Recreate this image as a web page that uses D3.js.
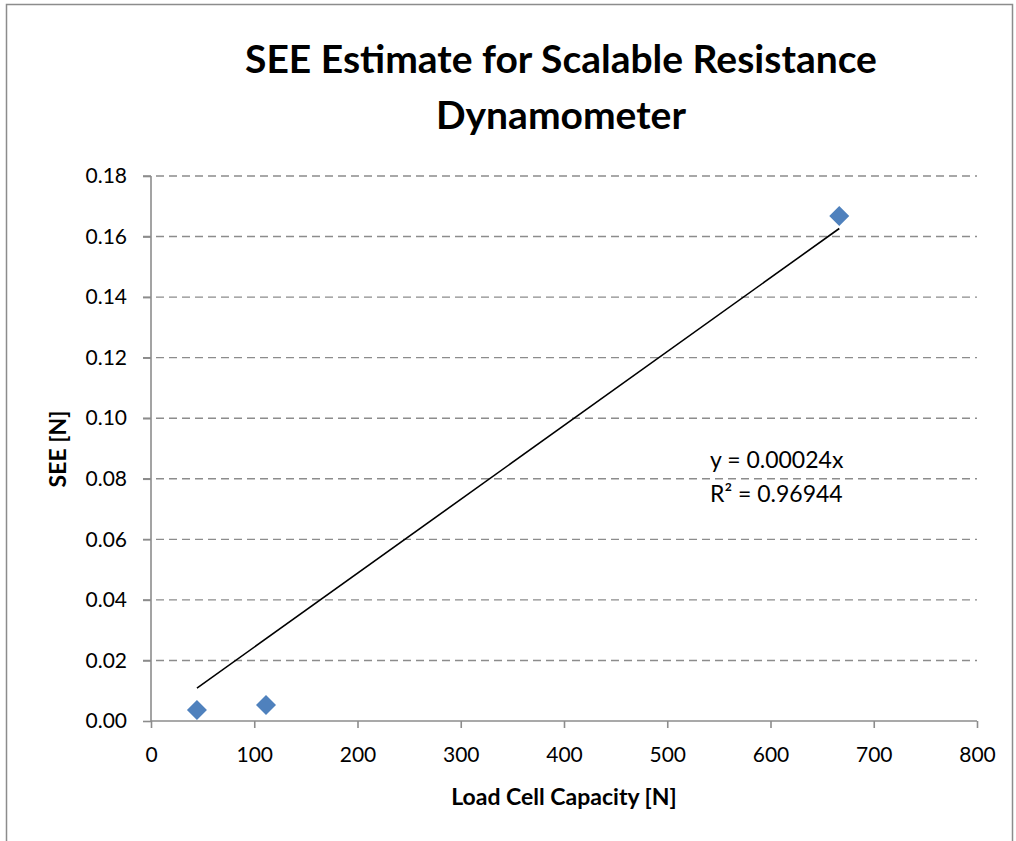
<!DOCTYPE html>
<html>
<head>
<meta charset="utf-8">
<script src="https://cdn.jsdelivr.net/npm/d3@7"></script>
<style>
  body { margin: 0; background: #fff; }
  text { font-family: Lato, "Open Sans", sans-serif; fill: #000; }
</style>
</head>
<body>
<div id="chart"></div>
<script>
// data
var capacity = [44.5, 111.4, 666.6];      // Load Cell Capacity [N]
var see = [0.0036, 0.0053, 0.1668];        // SEE [N]
var xTicks = [0, 100, 200, 300, 400, 500, 600, 700, 800];
var yTicks = [0, 0.02, 0.04, 0.06, 0.08, 0.10, 0.12, 0.14, 0.16, 0.18];
var titleLines = ["SEE Estimate for Scalable Resistance", "Dynamometer"];
var eqLines = ["y = 0.00024x", "R\u00B2 = 0.96944"];

var svgWidth = 1016;
var svgHeight = 841;

var margin = { top: 176, right: 39, bottom: 120, left: 151 };
var width = svgWidth - margin.left - margin.right;
var height = svgHeight - margin.top - margin.bottom;

var svg = d3.select("#chart")
    .append("svg")
    .attr("width", svgWidth)
    .attr("height", svgHeight);

// outer frame
svg.append("rect")
    .attr("x", 6.5)
    .attr("y", 4.5)
    .attr("width", 1006)
    .attr("height", 860)
    .attr("fill", "none")
    .attr("stroke", "#8c8c8c")
    .attr("stroke-width", 1.5);

var g = svg.append("g")
    .attr("transform", `translate(${margin.left}, ${margin.top})`);

var xScale = d3.scaleLinear().domain([0, 800]).range([0, width]);
var yScale = d3.scaleLinear().domain([0, 0.18]).range([height, 0]);

// gridlines
g.append("g")
    .selectAll("line")
    .data(yTicks.slice(1))
    .enter()
    .append("line")
    .attr("x1", -8)
    .attr("x2", width)
    .attr("y1", d => yScale(d))
    .attr("y2", d => yScale(d))
    .attr("stroke", "#8c8c8c")
    .attr("stroke-width", 1.4)
    .attr("stroke-dasharray", "8,5");

// axes
var xAxis = g.append("g")
    .attr("transform", `translate(0, ${height})`)
    .call(d3.axisBottom(xScale).tickValues(xTicks).tickSize(7).tickPadding(19).tickFormat(d3.format("d")));

var yAxis = g.append("g")
    .call(d3.axisLeft(yScale).tickValues(yTicks).tickSize(8).tickPadding(16).tickFormat(d3.format(".2f")));

[xAxis, yAxis].forEach(function(ax) {
    ax.selectAll("path, line").attr("stroke", "#8c8c8c").attr("stroke-width", 1.6);
    ax.select(".domain").attr("d", ax === xAxis ? `M0,0H${width}` : `M0,0V${height}`);
    ax.selectAll("text")
        .style("font-family", "Lato, 'Open Sans', sans-serif")
        .style("font-size", "21px")
        .attr("fill", "#000");
});

// trendline (least squares through origin)
var sxy = d3.sum(capacity, (c, i) => c * see[i]);
var sxx = d3.sum(capacity, c => c * c);
var slope = sxy / sxx;
var xMin = d3.min(capacity), xMax = d3.max(capacity);

g.append("line")
    .attr("x1", xScale(xMin))
    .attr("y1", yScale(slope * xMin))
    .attr("x2", xScale(xMax))
    .attr("y2", yScale(slope * xMax))
    .attr("stroke", "#000")
    .attr("stroke-width", 1.6);

// markers
g.selectAll(".pt")
    .data(capacity)
    .enter()
    .append("path")
    .attr("class", "pt")
    .attr("d", "M0,-10L10,0L0,10L-10,0Z")
    .attr("transform", (d, i) => `translate(${xScale(d)}, ${yScale(see[i])})`)
    .attr("fill", "#4f81bd");

// equation
g.selectAll(".eq")
    .data(eqLines)
    .enter()
    .append("text")
    .attr("class", "eq")
    .attr("x", 559)
    .attr("y", (d, i) => 292 + i * 34)
    .style("font-size", "23px")
    .text(d => d);

// title
svg.selectAll(".title")
    .data(titleLines)
    .enter()
    .append("text")
    .attr("class", "title")
    .attr("x", 561)
    .attr("y", (d, i) => 73 + i * 56)
    .attr("text-anchor", "middle")
    .style("font-size", "39px")
    .style("font-weight", "bold")
    .text(d => d);

// axis titles
svg.append("text")
    .attr("x", margin.left + width / 2)
    .attr("y", 805)
    .attr("text-anchor", "middle")
    .style("font-size", "23px")
    .style("font-weight", "bold")
    .text("Load Cell Capacity [N]");

svg.append("text")
    .attr("transform", "translate(66, 449) rotate(-90)")
    .attr("text-anchor", "middle")
    .style("font-size", "23px")
    .style("font-weight", "bold")
    .text("SEE [N]");
</script>
</body>
</html>
